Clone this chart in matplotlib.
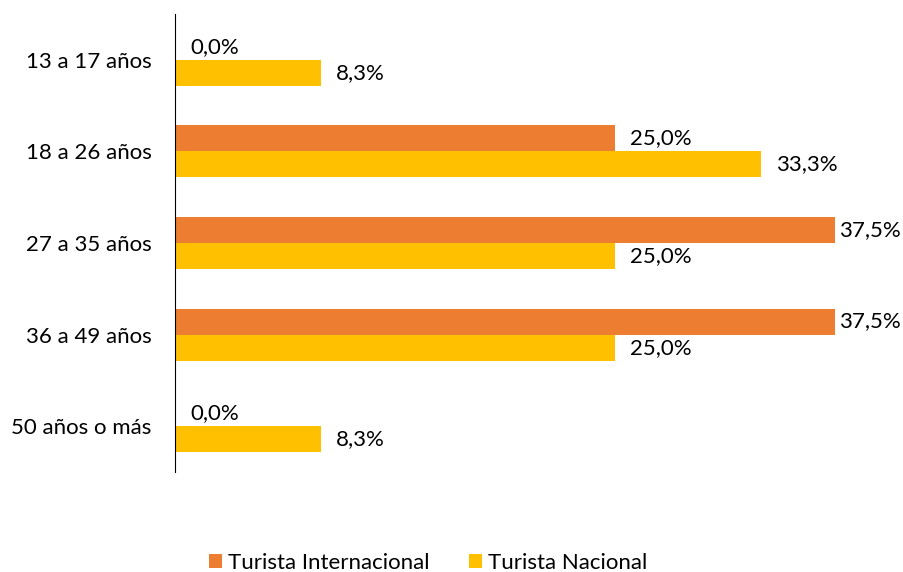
import numpy as np
import matplotlib.pyplot as plt

plt.rcParams['font.family'] = ['Lato', 'DejaVu Sans']

categorias = ['13 a 17 años', '18 a 26 años', '27 a 35 años', '36 a 49 años', '50 años o más']
internacional = [0.0, 25.0, 37.5, 37.5, 0.0]
nacional = [8.3, 33.3, 25.0, 25.0, 8.3]
series = ['Turista Internacional', 'Turista Nacional']
colores = ['#ED7D31', '#FFC000']

fig = plt.figure(figsize=(9.04, 5.72), dpi=100)
ax = fig.add_axes([175 / 904, 1 - 472 / 572, 704 / 904, 458 / 572])

y = np.arange(len(categorias))
h = 0.284
ax.barh(y - h, internacional, height=h, align='edge', color=colores[0], label=series[0])
ax.barh(y, nacional, height=h, align='edge', color=colores[1], label=series[1])

fs = 16
vmax = max(internacional + nacional)
for vals, off in [(internacional, -h / 2), (nacional, h / 2)]:
    for yi, v in zip(y, vals):
        dx = 3 if v == vmax else 11
        ax.annotate(f'{v:.1f}%'.replace('.', ','), (v, yi + off), xytext=(dx, 0),
                    textcoords='offset points', va='center', ha='left', fontsize=fs)

ax.set_xlim(0, 40)
ax.set_ylim(len(categorias) - 0.5, -0.5)
ax.set_yticks(y)
ax.set_yticklabels(categorias, fontsize=fs)
ax.tick_params(axis='y', length=0, pad=17)
ax.set_xticks([])
for s in ['top', 'right', 'bottom']:
    ax.spines[s].set_visible(False)
ax.spines['left'].set_color('black')

fig.legend(loc='center', bbox_to_anchor=(428 / 904, 1 - 563 / 572), ncol=2, frameon=False,
           fontsize=fs, handlelength=0.6, handleheight=0.6, handletextpad=0.25,
           columnspacing=1.8)

fig.savefig('out.png', dpi=100)
